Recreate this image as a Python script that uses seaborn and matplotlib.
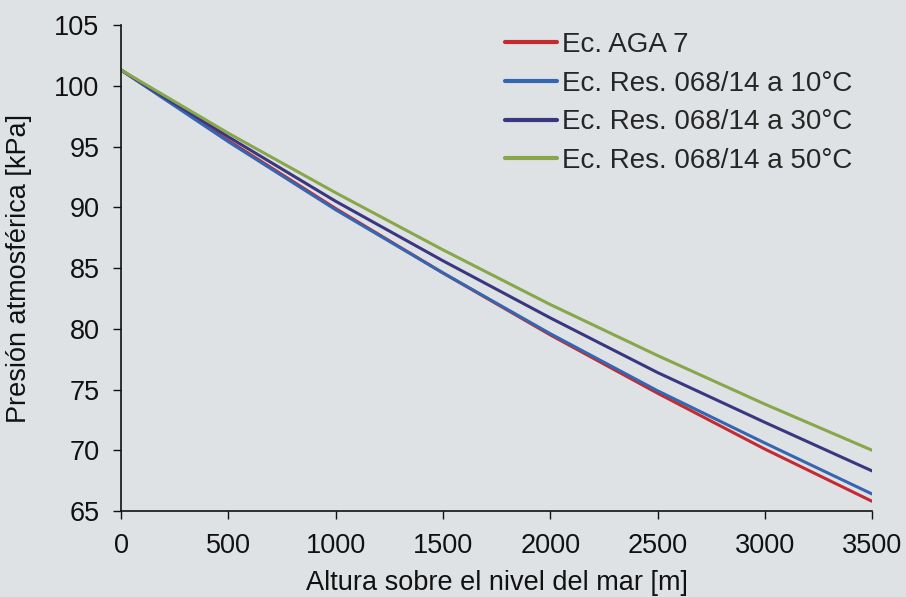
import pandas as pd
import seaborn as sns
import matplotlib.pyplot as plt

altura = [0, 500, 1000, 1500, 2000, 2500, 3000, 3500]
aga7 = [101.3, 95.5, 89.9, 84.6, 79.5, 74.7, 70.1, 65.8]
res_10 = [101.3, 95.4, 89.8, 84.6, 79.6, 74.9, 70.6, 66.4]
res_30 = [101.3, 95.8, 90.5, 85.6, 80.9, 76.4, 72.3, 68.3]
res_50 = [101.3, 96.1, 91.2, 86.5, 82.0, 77.8, 73.8, 70.0]

series = ["Ec. AGA 7", "Ec. Res. 068/14 a 10°C",
          "Ec. Res. 068/14 a 30°C", "Ec. Res. 068/14 a 50°C"]
colores = ["#c42a30", "#3466b2", "#3a3680", "#88a64a"]


def grafica():
    frames = []
    for nombre, vals in zip(series, [aga7, res_10, res_30, res_50]):
        frames.append(pd.DataFrame({"altura": altura, "presion": vals, "serie": nombre}))
    df = pd.concat(frames, ignore_index=True)

    sns.set_style("ticks")
    plt.rcParams["font.family"] = ["Liberation Sans", "DejaVu Sans"]
    bg = "#dfe2e5"
    fs = 19.5

    fig = plt.figure(figsize=(9.06, 5.97), dpi=100, facecolor=bg)
    ax = fig.add_axes([0.1336, 0.144, 0.829, 0.814])
    ax.set_facecolor(bg)

    sns.lineplot(data=df, x="altura", y="presion", hue="serie",
                 palette=dict(zip(series, colores)), linewidth=2.2, ax=ax)

    ax.set_xlim(0, 3500)
    ax.set_ylim(65, 105)
    ax.set_xticks(range(0, 3501, 500))
    ax.set_yticks(range(65, 106, 5))
    ax.tick_params(direction="out", length=5.5, width=1, labelsize=fs, colors="#111111")
    ax.tick_params(axis="x", pad=10)
    ax.tick_params(axis="y", pad=10)
    sns.despine(ax=ax)
    for s in ["left", "bottom"]:
        ax.spines[s].set_color("#111111")
        ax.spines[s].set_linewidth(1.2)

    ax.set_xlabel("Altura sobre el nivel del mar [m]", fontsize=fs, color="#111111")
    ax.set_ylabel("Presión atmosférica [kPa]", fontsize=fs, color="#111111")
    ax.xaxis.set_label_coords(0.5, -0.121)
    ax.yaxis.set_label_coords(-0.118, 0.5)

    leg = ax.legend(loc="upper left", frameon=False, fontsize=20,
                    handlelength=1.87, handletextpad=0.17, labelspacing=0.46,
                    borderpad=0, borderaxespad=0,
                    bbox_to_anchor=(0.511, 0.986))
    for line in leg.get_lines():
        line.set_linewidth(3)

    fig.savefig("out.png", dpi=100, facecolor=bg)


def main():
    grafica()


if __name__ == "__main__":
    main()
